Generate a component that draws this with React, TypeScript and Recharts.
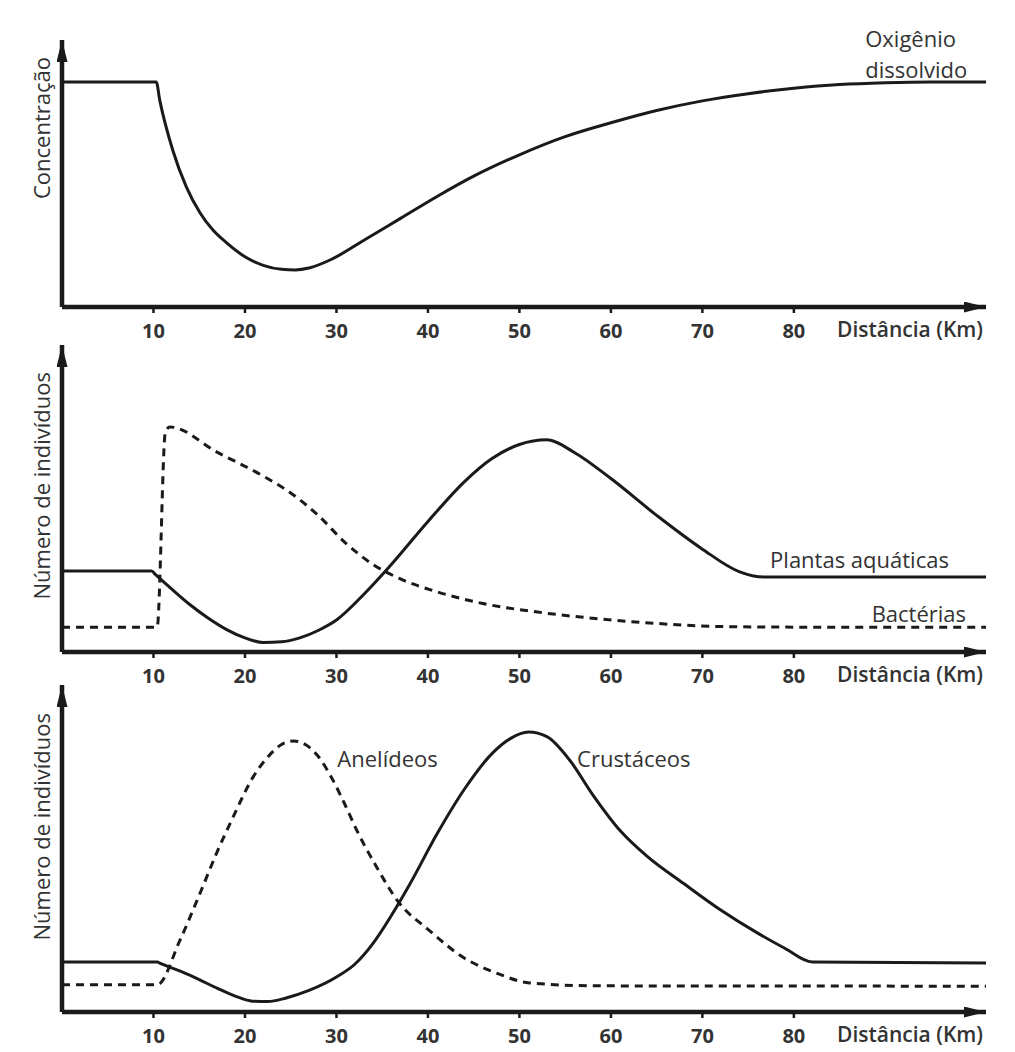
import { LineChart, Line, XAxis, YAxis, ReferenceDot } from 'recharts';

// distância (km) ticks shared by the three panels
const kmTicks = [10, 20, 30, 40, 50, 60, 70, 80];

// painel 1 - oxigênio dissolvido
const oxigenio = [
  { km: 0, v: 84.3 }, { km: 10.3, v: 84.3 }, { km: 10.7, v: 77.2 },
  { km: 12.1, v: 58.8 }, { km: 13.6, v: 44.9 }, { km: 15.1, v: 35.2 },
  { km: 16.5, v: 28.8 }, { km: 18, v: 24 }, { km: 20, v: 18.8 },
  { km: 22, v: 15.6 }, { km: 24, v: 14.1 }, { km: 25.5, v: 13.9 },
  { km: 27, v: 14.6 }, { km: 29.3, v: 17.6 }, { km: 33, v: 25 },
  { km: 37, v: 33.2 }, { km: 41, v: 41.4 }, { km: 45, v: 49 },
  { km: 50, v: 57 }, { km: 55, v: 63.8 }, { km: 60, v: 69 },
  { km: 65, v: 73.6 }, { km: 70, v: 77.2 }, { km: 75, v: 79.9 },
  { km: 80, v: 81.9 }, { km: 85, v: 83.3 }, { km: 90, v: 84 },
  { km: 95, v: 84.3 }, { km: 101, v: 84.3 },
];

// painel 2 - plantas aquáticas e bactérias
const plantas = [
  { km: 0, v: 26.4 }, { km: 9.8, v: 26.4 }, { km: 10.2, v: 25.3 },
  { km: 12, v: 20.5 }, { km: 14, v: 15.4 }, { km: 16, v: 11 },
  { km: 18, v: 7.3 }, { km: 20, v: 4.6 }, { km: 22, v: 3.1 },
  { km: 24, v: 3.3 }, { km: 26, v: 4.6 }, { km: 28, v: 7 },
  { km: 30, v: 10.4 }, { km: 33, v: 18.8 }, { km: 36, v: 28.5 },
  { km: 40, v: 42.5 }, { km: 44, v: 55.5 }, { km: 47, v: 63 },
  { km: 50, v: 67.6 }, { km: 53, v: 69.1 }, { km: 56, v: 65 },
  { km: 60, v: 56.5 }, { km: 65, v: 44.5 }, { km: 70, v: 33.5 },
  { km: 74, v: 26.2 }, { km: 76.8, v: 24.4 }, { km: 101, v: 24.4 },
];

const bacterias = [
  { km: 0, v: 8.1 }, { km: 10.4, v: 8.1 }, { km: 11.3, v: 71.7 },
  { km: 11.8, v: 73.3 }, { km: 17, v: 65 }, { km: 22, v: 57.3 },
  { km: 25, v: 51.8 }, { km: 28, v: 44.5 }, { km: 31, v: 35.5 },
  { km: 34, v: 28.5 }, { km: 37, v: 23.8 }, { km: 41, v: 19.6 },
  { km: 46, v: 15.8 }, { km: 52, v: 13 }, { km: 58, v: 11 },
  { km: 65, v: 9.3 }, { km: 72, v: 8.3 }, { km: 80, v: 8.1 },
  { km: 101, v: 8.1 },
];

// painel 3 - anelídeos e crustáceos
const anelideos = [
  { km: 0, v: 8.3 }, { km: 10.4, v: 8.3 }, { km: 12.9, v: 22 },
  { km: 15.1, v: 36.4 }, { km: 16.9, v: 48.6 }, { km: 18.7, v: 59.6 },
  { km: 20.9, v: 71.9 }, { km: 22.5, v: 78 }, { km: 24, v: 81.8 },
  { km: 25.3, v: 82.9 }, { km: 26.6, v: 81.8 }, { km: 28, v: 78.2 },
  { km: 29.5, v: 71.5 }, { km: 31, v: 63 }, { km: 32.2, v: 55.7 },
  { km: 34.4, v: 44.3 }, { km: 36.6, v: 34.3 }, { km: 40.3, v: 24.6 },
  { km: 43.8, v: 16.8 }, { km: 47.5, v: 11.9 }, { km: 51.1, v: 8.9 },
  { km: 58.5, v: 8 }, { km: 101, v: 7.9 },
];

const crustaceos = [
  { km: 0, v: 15.3 }, { km: 10.4, v: 15.3 }, { km: 10.8, v: 14.8 },
  { km: 13, v: 12.4 }, { km: 15, v: 9.9 }, { km: 17, v: 7.2 },
  { km: 19, v: 4.8 }, { km: 20.8, v: 3.3 }, { km: 22.5, v: 3.2 },
  { km: 24.5, v: 4.3 }, { km: 27, v: 6.6 }, { km: 30, v: 10.7 },
  { km: 32, v: 14.6 }, { km: 34, v: 21 }, { km: 36, v: 29.5 },
  { km: 38, v: 39 }, { km: 41, v: 54.5 }, { km: 44, v: 68.2 },
  { km: 47, v: 79 }, { km: 49, v: 83.6 }, { km: 51, v: 85.6 },
  { km: 53, v: 84.2 }, { km: 55.5, v: 77 }, { km: 58, v: 66.5 },
  { km: 61, v: 55.5 }, { km: 64, v: 47.5 }, { km: 68, v: 39.2 },
  { km: 72, v: 31.2 }, { km: 76, v: 24.2 }, { km: 79, v: 19.5 },
  { km: 82, v: 15.3 }, { km: 101, v: 15 },
];

const INK = '#1a1a1a';
const TEXT = '#333';
const FONT = '"Open Sans", "DejaVu Sans", sans-serif';
const DASH = '8 6';

const axisLineX = { stroke: INK, strokeWidth: 4.5, markerEnd: 'url(#arrowHead)' };
const axisLineY = { stroke: INK, strokeWidth: 4.5, markerStart: 'url(#arrowHead)' };

const DistanceTitle = ({ viewBox }: any) => (
  <text
    x={viewBox.x + viewBox.width - 3}
    y={viewBox.y + 30}
    textAnchor="end"
    fontFamily={FONT}
    fontSize={21}
    fontWeight={600}
    fill={TEXT}
  >
    Distância (Km)
  </text>
);

const yTitle = (text: string, gap: number) => (props: any) => {
  const { viewBox } = props;
  const x = viewBox.x + 30;
  const y = viewBox.y + gap;
  return (
    <text
      x={x}
      y={y}
      transform={`rotate(-90 ${x} ${y})`}
      textAnchor="end"
      fontFamily={FONT}
      fontSize={22}
      fill={TEXT}
    >
      {text}
    </text>
  );
};

const seriesName = (lines: string[]) => (props: any) => (
  <text x={props.cx} y={props.cy} fontFamily={FONT} fontSize={22} fill={TEXT}>
    {lines.map((l, i) => (
      <tspan key={l} x={props.cx} dy={i === 0 ? 0 : 31}>
        {l}
      </tspan>
    ))}
  </text>
);

interface PanelProps {
  top: number;
  plotTop: number;
  plotHeight: number;
  yLabel: string;
  yLabelGap: number;
  children: React.ReactNode;
}

const Panel = ({ top, plotTop, plotHeight, yLabel, yLabelGap, children }: PanelProps) => (
  <div style={{ position: 'absolute', left: 0, top }}>
    <LineChart
      width={1015}
      height={plotTop + plotHeight + 40}
      margin={{ top: plotTop, right: 29, bottom: 0, left: 20 }}
    >
      <XAxis
        type="number"
        dataKey="km"
        domain={[0, 101]}
        ticks={kmTicks}
        interval={0}
        height={40}
        axisLine={axisLineX}
        tickLine={{ stroke: INK, strokeWidth: 2.5 }}
        tickSize={6}
        tickMargin={11}
        tick={{ fill: TEXT, fontSize: 20, fontWeight: 700, fontFamily: FONT }}
        label={<DistanceTitle />}
      />
      <YAxis
        type="number"
        domain={[0, 100]}
        width={42}
        tick={false}
        tickLine={false}
        axisLine={axisLineY}
        label={yTitle(yLabel, yLabelGap)}
      />
      {children}
    </LineChart>
  </div>
);

const lineProps = {
  type: 'monotone' as const,
  dataKey: 'v',
  stroke: INK,
  strokeWidth: 3,
  dot: false,
  activeDot: false,
  isAnimationActive: false,
};

export default function App() {
  return (
    <div
      style={{
        position: 'absolute',
        left: 0,
        top: 0,
        width: 1015,
        height: 1052,
        background: '#fff',
        fontFamily: FONT,
      }}
    >
      <svg width={0} height={0} style={{ position: 'absolute' }}>
        <defs>
          <marker
            id="arrowHead"
            markerUnits="userSpaceOnUse"
            markerWidth={24}
            markerHeight={12}
            refX={22}
            refY={5.5}
            orient="auto-start-reverse"
          >
            <path d="M0,0 L22,5.5 L0,11 Z" fill={INK} />
          </marker>
        </defs>
      </svg>

      <Panel top={0} plotTop={40} plotHeight={267} yLabel="Concentração" yLabelGap={17}>
        <Line {...lineProps} data={oxigenio} />
        <ReferenceDot x={87.8} y={97.4} r={0} shape={seriesName(['Oxigênio', 'dissolvido'])} />
      </Panel>

      <Panel top={320} plotTop={25} plotHeight={307} yLabel="Número de indivíduos" yLabelGap={27}>
        <Line {...lineProps} data={plantas} />
        <Line {...lineProps} data={bacterias} strokeDasharray={DASH} />
        <ReferenceDot x={77.4} y={27.4} r={0} shape={seriesName(['Plantas aquáticas'])} />
        <ReferenceDot x={88.5} y={9.8} r={0} shape={seriesName(['Bactérias'])} />
      </Panel>

      <Panel top={660} plotTop={25} plotHeight={327} yLabel="Número de indivíduos" yLabelGap={28}>
        <Line {...lineProps} data={anelideos} strokeDasharray={DASH} />
        <Line {...lineProps} data={crustaceos} />
        <ReferenceDot x={30.1} y={74.9} r={0} shape={seriesName(['Anelídeos'])} />
        <ReferenceDot x={56.3} y={74.9} r={0} shape={seriesName(['Crustáceos'])} />
      </Panel>
    </div>
  );
}
